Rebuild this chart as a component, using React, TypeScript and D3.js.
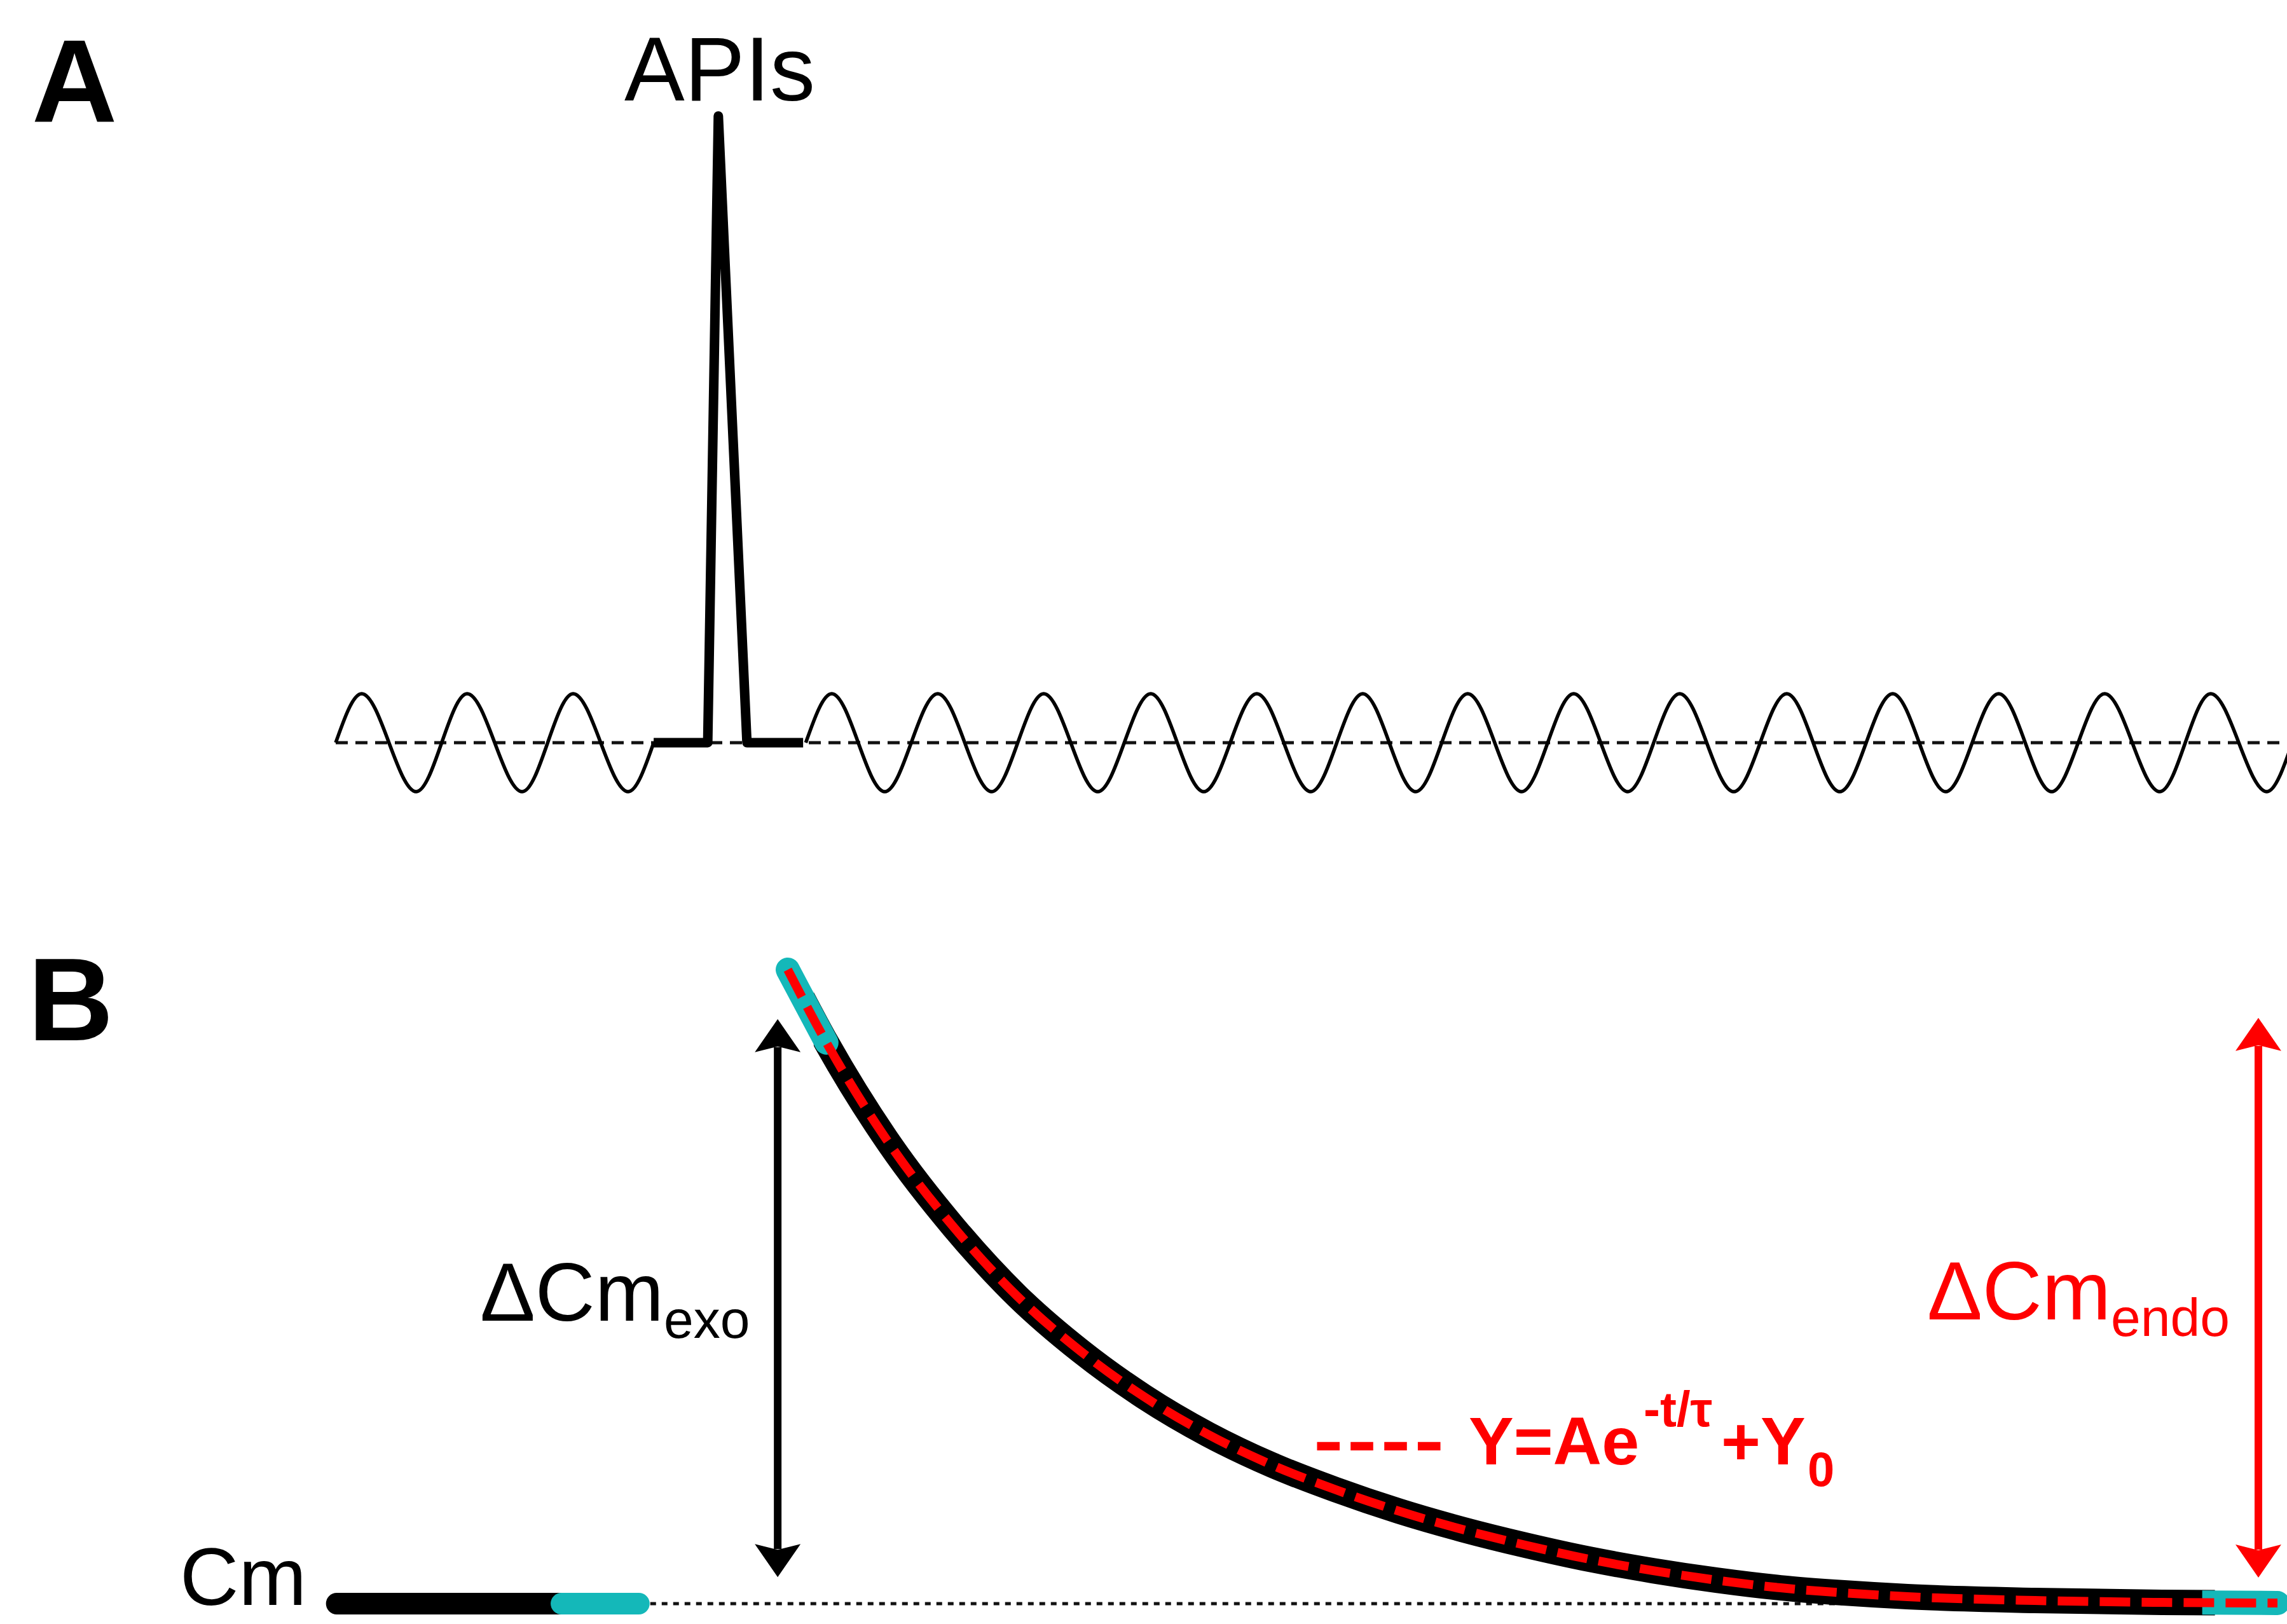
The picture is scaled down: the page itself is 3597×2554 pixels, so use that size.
import { useEffect, useRef } from 'react';
import * as d3 from 'd3';

const W = 3597;
const H = 2554;

// Panel A - membrane potential trace (time in ms, potential in units of oscillation amplitude)
const waveLeftSpan = [0, 30];
const waveLeftPeaks = [2.45, 12.4, 22.4];
const waveLeftTroughs = [7.6, 17.6, 27.6];
const waveRightSpan = [44.35, 184.6];
const waveRightPeaks = [46.8, 56.8, 66.8, 76.9, 86.9, 96.9, 106.8, 116.8, 126.8, 136.9, 146.9, 156.9, 166.9, 176.9];
const waveRightTroughs = [51.8, 61.9, 71.9, 81.9, 92.0, 101.9, 111.9, 121.9, 131.9, 141.9, 151.9, 161.9, 172.1, 182.2];
const apTime = [30, 35.1, 36.1, 38.8, 44.1];
const apValue = [0, 0, 12.8, 0, 0];

// Panel B - membrane capacitance (% of the exocytic jump)
const cmPreBlack = [0.1, 21.3];
const cmPreCyan = [21.3, 28.6];
const decayTime = [42.65, 46.3, 52.3, 58.3, 64.3, 70.3, 76.3, 82.3, 88.3, 94.3, 100.3, 106.3, 112.3, 118.3, 124.3, 130.3, 136.3, 142.3, 148.3, 160.3, 172.3, 183.2];
const decayCm = [100, 88.5, 72.4, 59.4, 48.5, 39.8, 32.6, 26.7, 21.9, 18.0, 14.6, 11.7, 9.2, 7.0, 5.2, 3.7, 2.5, 1.7, 1.1, 0.5, 0.2, 0.1];
const decayCyanStart = 46.3;
const decayCyanEnd = 176.1;
const exoArrow = { t: 41.7, from: 4.2, to: 92.2 };
const endoArrow = { t: 181.4, from: 4.1, to: 92.4 };

const CYAN = '#14b8b9';
const RED = '#ff0000';
const FONT = '"Liberation Sans", Arial, Helvetica, sans-serif';

function wavePoints(span: number[], peaks: number[], troughs: number[]) {
  const pts: [number, number][] = [[span[0], 0]];
  peaks.forEach((p) => pts.push([p, 1]));
  troughs.forEach((t) => pts.push([t, -1]));
  pts.push([span[1], 0]);
  return pts.sort((a, b) => a[0] - b[0]);
}

export default function App() {
  const svgRef = useRef<SVGSVGElement | null>(null);

  useEffect(() => {
    if (!svgRef.current) return;
    const svg = d3.select(svgRef.current);
    svg.selectAll('*').remove();

    const x = d3.scaleLinear().domain([0, 184.1]).range([528, 3597]);
    const yA = d3.scaleLinear().domain([-1, 1]).range([1168 + 77, 1168 - 77]);
    const yB = d3.scaleLinear().domain([0, 100]).range([2522, 1525]);

    svg.append('rect').attr('width', W).attr('height', H).attr('fill', '#fff');

    // ---------- Panel A ----------
    const gA = svg.append('g');
    const lineA = d3.line<[number, number]>().x(d => x(d[0])).y(d => yA(d[1]));

    gA.append('line')
      .attr('x1', x(0)).attr('x2', W)
      .attr('y1', yA(0)).attr('y2', yA(0))
      .attr('stroke', '#111').attr('stroke-width', 5)
      .attr('stroke-dasharray', '19 12');

    [wavePoints(waveLeftSpan, waveLeftPeaks, waveLeftTroughs),
     wavePoints(waveRightSpan, waveRightPeaks, waveRightTroughs)].forEach((pts) => {
      gA.append('path')
        .attr('d', lineA.curve(d3.curveMonotoneX)(pts))
        .attr('fill', 'none')
        .attr('stroke', '#000')
        .attr('stroke-width', 5.5);
    });

    const apPts = apTime.map((t, i) => [t, apValue[i]] as [number, number]);
    gA.append('path')
      .attr('d', lineA.curve(d3.curveLinear)(apPts))
      .attr('fill', 'none')
      .attr('stroke', '#000')
      .attr('stroke-width', 15)
      .attr('stroke-linejoin', 'round');

    gA.append('text')
      .attr('x', 50).attr('y', 192)
      .attr('font-family', FONT).attr('font-weight', 'bold').attr('font-size', 186)
      .text('A');

    gA.append('text')
      .attr('x', 982).attr('y', 158)
      .attr('font-family', FONT).attr('font-size', 142)
      .text('APIs');

    // ---------- Panel B ----------
    const gB = svg.append('g');
    const lineB = d3.line<[number, number]>().x(d => x(d[0])).y(d => yB(d[1]));

    gB.append('line')
      .attr('x1', x(cmPreCyan[1])).attr('x2', W)
      .attr('y1', yB(0)).attr('y2', yB(0))
      .attr('stroke', '#111').attr('stroke-width', 5)
      .attr('stroke-dasharray', '9 9');

    gB.append('path')
      .attr('d', lineB([[cmPreBlack[0], 0], [cmPreBlack[1], 0]]))
      .attr('stroke', '#000').attr('stroke-width', 34).attr('stroke-linecap', 'round');
    gB.append('path')
      .attr('d', lineB([[cmPreCyan[0], 0], [cmPreCyan[1], 0]]))
      .attr('stroke', CYAN).attr('stroke-width', 34).attr('stroke-linecap', 'round');

    const decayPts = decayTime.map((t, i) => [t, decayCm[i]] as [number, number]);
    const decayPath = lineB.curve(d3.curveMonotoneX)(decayPts) as string;

    const defs = svg.append('defs');
    defs.append('clipPath').attr('id', 'clip-black')
      .append('rect')
      .attr('x', x(decayCyanStart) - 20).attr('y', 0)
      .attr('width', x(decayCyanEnd) - x(decayCyanStart) + 40).attr('height', H);
    defs.append('clipPath').attr('id', 'clip-cyan-end')
      .append('rect')
      .attr('x', x(decayCyanEnd)).attr('y', 0)
      .attr('width', W - x(decayCyanEnd)).attr('height', H);

    gB.append('path')
      .attr('d', decayPath)
      .attr('clip-path', 'url(#clip-black)')
      .attr('fill', 'none').attr('stroke', '#000').attr('stroke-width', 40);

    gB.append('path')
      .attr('d', lineB(decayPts.filter(d => d[0] <= decayCyanStart)))
      .attr('fill', 'none').attr('stroke', CYAN).attr('stroke-width', 38)
      .attr('stroke-linecap', 'round');

    gB.append('path')
      .attr('d', decayPath)
      .attr('clip-path', 'url(#clip-cyan-end)')
      .attr('fill', 'none').attr('stroke', CYAN).attr('stroke-width', 38)
      .attr('stroke-linecap', 'round');

    gB.append('path')
      .attr('d', decayPath)
      .attr('fill', 'none').attr('stroke', RED).attr('stroke-width', 14)
      .attr('stroke-dasharray', '48 18');

    // double arrows
    const drawArrow = (a: { t: number; from: number; to: number }, color: string) => {
      const ax = x(a.t);
      const yTop = yB(a.to);
      const yBot = yB(a.from);
      const hl = 52;
      const hw = 36;
      gB.append('line')
        .attr('x1', ax).attr('x2', ax)
        .attr('y1', yTop + hl - 8).attr('y2', yBot - hl + 8)
        .attr('stroke', color).attr('stroke-width', 12);
      gB.append('path')
        .attr('d', `M${ax},${yTop} L${ax - hw},${yTop + hl} L${ax},${yTop + hl - 9} L${ax + hw},${yTop + hl} Z`)
        .attr('fill', color);
      gB.append('path')
        .attr('d', `M${ax},${yBot} L${ax - hw},${yBot - hl} L${ax},${yBot - hl + 9} L${ax + hw},${yBot - hl} Z`)
        .attr('fill', color);
    };
    drawArrow(exoArrow, '#000');
    drawArrow(endoArrow, RED);

    // labels
    gB.append('text')
      .attr('x', 44).attr('y', 1636)
      .attr('font-family', FONT).attr('font-weight', 'bold').attr('font-size', 186)
      .text('B');

    gB.append('text')
      .attr('x', 283).attr('y', 2524)
      .attr('font-family', FONT).attr('font-size', 128)
      .text('Cm');

    const exo = gB.append('text')
      .attr('x', 755).attr('y', 2077)
      .attr('font-family', FONT).attr('font-size', 130).attr('fill', '#000');
    exo.append('tspan').text('ΔCm');
    exo.append('tspan').attr('font-size', 84).attr('dy', 27).text('exo');

    const endo = gB.append('text')
      .attr('x', 3031).attr('y', 2075)
      .attr('font-family', FONT).attr('font-size', 130).attr('fill', RED);
    endo.append('tspan').text('ΔCm');
    endo.append('tspan').attr('font-size', 84).attr('dy', 26).text('endo');

    const eq = gB.append('g')
      .attr('font-family', FONT).attr('font-weight', 'bold').attr('fill', RED);
    eq.append('text')
      .attr('transform', 'translate(2066,2303) scale(1.25,1)')
      .attr('font-size', 112)
      .attr('letter-spacing', 5).text('----');
    eq.append('text').attr('x', 2310).attr('y', 2303).attr('font-size', 106).text('Y=Ae');
    eq.append('text').attr('x', 2585).attr('y', 2243).attr('font-size', 78).text('-t/τ');
    eq.append('text').attr('x', 2707).attr('y', 2303).attr('font-size', 106).text('+Y');
    eq.append('text').attr('x', 2843).attr('y', 2337).attr('font-size', 76).text('0');
  }, []);

  return (
    <svg
      ref={svgRef}
      width={W}
      height={H}
      style={{ position: 'absolute', left: 0, top: 0, display: 'block' }}
    />
  );
}
